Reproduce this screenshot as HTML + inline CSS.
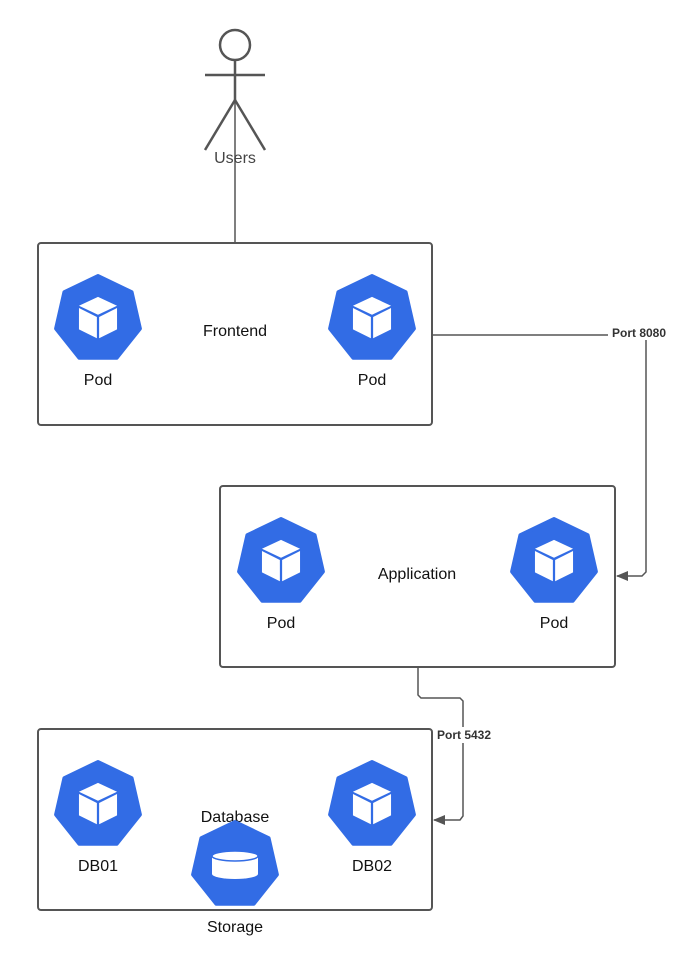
<!DOCTYPE html>
<html><head><meta charset="utf-8"><style>
html,body{margin:0;padding:0;background:#fff;}
svg{display:block;font-family:"Liberation Sans",Arial,sans-serif;}
</style></head><body>
<svg width="700" height="964" viewBox="0 0 700 964" xmlns="http://www.w3.org/2000/svg">
<defs>
<g id="hep"><polygon points="0,-43 33.6,-26.8 41.9,9.6 18.7,38.7 -18.7,38.7 -41.9,9.6 -33.6,-26.8" fill="#326CE5" stroke="#326CE5" stroke-width="4" stroke-linejoin="round"/></g>
<g id="pod"><use href="#hep"/>
<g transform="translate(0,-2) scale(1.12)">
<polygon points="0,-18 -17,-10 0,-2 17,-10" fill="#fff"/>
<polygon points="-17,-8 -1,0 -1,19 -17,11" fill="#fff"/>
<polygon points="1,0 17,-8 17,11 1,19" fill="#fff"/>
</g>
</g>
<marker id="arr" markerWidth="12" markerHeight="10" refX="11" refY="5" orient="auto" markerUnits="userSpaceOnUse"><polygon points="0,0 12,5 0,10" fill="#555"/></marker>
</defs>
<g stroke="#555" stroke-width="2.5" fill="none">
<circle cx="235" cy="45" r="15"/>
<line x1="205" y1="75" x2="265" y2="75"/>
<line x1="235" y1="100" x2="205" y2="150"/>
<line x1="235" y1="100" x2="265" y2="150"/>
<line x1="235" y1="60" x2="235" y2="100"/>
</g>
<line x1="235" y1="100" x2="235" y2="243" stroke="#555" stroke-width="1.5"/>
<text x="235" y="163" font-size="16" text-anchor="middle" fill="#444">Users</text>
<g fill="#fff" stroke="#555" stroke-width="2">
<rect x="38" y="243" width="394" height="182" rx="3"/>
<rect x="220" y="486" width="395" height="181" rx="3"/>
<rect x="38" y="729" width="394" height="181" rx="3"/>
</g>
<g stroke="#555" stroke-width="1.5" fill="none">
<polyline points="432,335 646,335 646,572 642,576 617,576" marker-end="url(#arr)"/>
<polyline points="418,667 418,695 421,698 460,698 463,701 463,816 460,820 434,820" marker-end="url(#arr)"/>
</g>
<rect x="608" y="324" width="62" height="16" fill="#fff"/>
<text x="639" y="337" font-size="12" font-weight="bold" text-anchor="middle" fill="#333">Port 8080</text>
<rect x="433" y="727" width="62" height="16" fill="#fff"/>
<text x="464" y="739" font-size="12" font-weight="bold" text-anchor="middle" fill="#333">Port 5432</text>
<use href="#pod" x="98" y="319"/>
<use href="#pod" x="372" y="319"/>
<use href="#pod" x="281" y="562"/>
<use href="#pod" x="554" y="562"/>
<use href="#pod" x="98" y="805"/>
<use href="#pod" x="372" y="805"/>
<g font-size="16" fill="#111" text-anchor="middle">
<text x="98" y="385">Pod</text>
<text x="372" y="385">Pod</text>
<text x="235" y="336">Frontend</text>
<text x="281" y="628">Pod</text>
<text x="554" y="628">Pod</text>
<text x="417" y="579">Application</text>
<text x="98" y="871">DB01</text>
<text x="372" y="871">DB02</text>
<text x="235" y="822">Database</text>
<text x="235" y="932">Storage</text>
</g>
<g transform="translate(235,865)">
<use href="#hep"/>
<rect x="-23" y="-9" width="46" height="18" fill="#fff"/>
<ellipse cx="0" cy="9" rx="23" ry="5" fill="#fff"/>
<ellipse cx="0" cy="-9" rx="23" ry="5" fill="#fff" stroke="#326CE5" stroke-width="1.5"/>
</g>
</svg>
</body></html>
